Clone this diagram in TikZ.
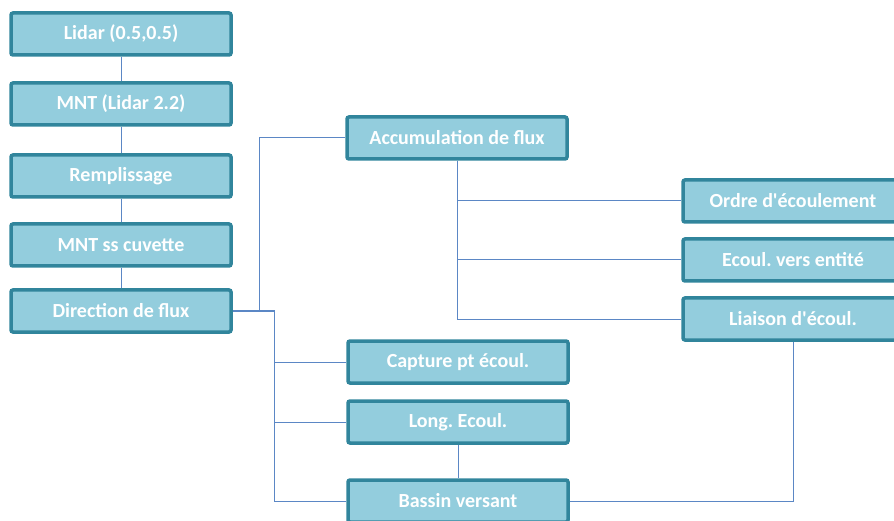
\documentclass[tikz,border=0pt]{standalone}
\usepackage{fontspec}
\setmainfont{Carlito}
\usetikzlibrary{positioning,calc}
\frenchspacing

\definecolor{boitefond}{HTML}{93CDDD}
\definecolor{boitebord}{HTML}{31859C}
\definecolor{lien}{HTML}{5B87C5}

\begin{document}
\begin{tikzpicture}[x=1pt,y=-1pt,
    etape/.style={draw=boitebord, fill=boitefond, line width=3.5pt, rounded corners=2pt,
        minimum width=220pt, minimum height=42pt, inner sep=0pt,
        text=white, font=\fontsize{20}{24}\selectfont\bfseries},
    lien/.style={draw=lien, line width=1pt}]
    \useasboundingbox (0,0) rectangle (894,521);

    % colonne de gauche
    \node (lidar) [etape] at (121,34) {Lidar (0.5,0.5)};
    \node (mnt) [etape] at (121,104) {MNT (Lidar 2.2)};
    \node (remplissage) [etape] at (121,176) {Remplissage};
    \node (cuvette) [etape] at (121,245) {MNT ss cuvette};
    \node (direction) [etape] at (121,311) {Direction de flux};

    % accumulation et ses sorties
    \node (accum) [etape] at (457,138) {Accumulation de flux};
    \node (ordre) [etape] at (793,201) {Ordre d\textquotesingle écoulement};
    \node (entite) [etape] at (793,260) {Ecoul. vers entité};
    \node (liaison) [etape] at (793,319) {Liaison d\textquotesingle écoul.};

    % sorties de la direction
    \node (capture) [etape] at (458,362) {Capture pt écoul.};
    \node (longueur) [etape] at (458,422) {Long. Ecoul.};
    \node (bassin) [etape] at (458,501) {Bassin versant};

    \coordinate (bus) at ($(direction.east)+(42,0)$);

    \draw [lien] (lidar) -- (mnt);
    \draw [lien] (mnt) -- (remplissage);
    \draw [lien] (remplissage) -- (cuvette);
    \draw [lien] (cuvette) -- (direction);

    \draw [lien] (direction.east) -- ++(27,0) |- (accum.west);
    \draw [lien] (direction.east) -- (bus) |- (bassin.west);
    \draw [lien] (bus) |- (capture.west);
    \draw [lien] (bus) |- (longueur.west);

    \draw [lien] (accum.south) |- (liaison.west);
    \draw [lien] (accum.south) |- (ordre.west);
    \draw [lien] (accum.south) |- (entite.west);

    \draw [lien] (longueur) -- (bassin);
    \draw [lien] (liaison.south) |- (bassin.east);
\end{tikzpicture}
\end{document}
